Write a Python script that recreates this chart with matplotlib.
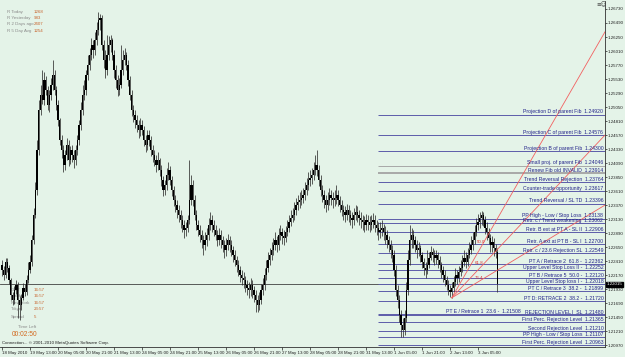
import matplotlib
matplotlib.use('Agg')
import matplotlib.pyplot as plt
import matplotlib.transforms as mtransforms

plt.rcParams['font.family'] = ['Liberation Sans', 'DejaVu Sans']

# ---------------- data ----------------
first_open = 1.2234
closes = [
 1.2226,1.2217,1.2239,1.2229,1.2209,1.2183,1.2174,1.2191,1.2200,1.2174,
 1.2166,1.2178,1.2195,1.2188,1.2209,1.2226,1.2239,1.2277,1.2320,1.2363,
 1.2431,1.2500,1.2526,1.2517,1.2551,1.2534,1.2508,1.2526,1.2543,1.2560,
 1.2534,1.2508,1.2483,1.2448,1.2431,1.2406,1.2423,1.2440,1.2414,1.2431,
 1.2423,1.2414,1.2431,1.2448,1.2474,1.2500,1.2526,1.2534,1.2560,1.2577,
 1.2594,1.2611,1.2603,1.2620,1.2637,1.2654,1.2658,1.2611,1.2586,1.2568,
 1.2594,1.2611,1.2620,1.2594,1.2568,1.2551,1.2534,1.2543,1.2568,1.2586,
 1.2594,1.2577,1.2551,1.2526,1.2500,1.2491,1.2483,1.2474,1.2466,1.2474,
 1.2466,1.2448,1.2440,1.2457,1.2448,1.2431,1.2423,1.2414,1.2406,1.2414,
 1.2397,1.2380,1.2363,1.2371,1.2388,1.2397,1.2380,1.2363,1.2346,1.2337,
 1.2328,1.2320,1.2311,1.2303,1.2294,1.2298,1.2311,1.2346,1.2371,1.2346,
 1.2320,1.2303,1.2294,1.2286,1.2277,1.2268,1.2277,1.2286,1.2303,1.2311,
 1.2303,1.2294,1.2286,1.2277,1.2286,1.2277,1.2268,1.2260,1.2268,1.2277,
 1.2268,1.2260,1.2251,1.2243,1.2234,1.2226,1.2217,1.2212,1.2209,1.2200,
 1.2195,1.2191,1.2200,1.2191,1.2183,1.2174,1.2166,1.2174,1.2191,1.2200,
 1.2217,1.2229,1.2243,1.2251,1.2260,1.2268,1.2277,1.2268,1.2286,1.2291,
 1.2284,1.2281,1.2291,1.2298,1.2308,1.2315,1.2320,1.2328,1.2337,1.2342,
 1.2346,1.2349,1.2354,1.2363,1.2371,1.2380,1.2383,1.2388,1.2397,1.2406,
 1.2397,1.2380,1.2363,1.2354,1.2346,1.2337,1.2346,1.2354,1.2349,1.2346,
 1.2349,1.2354,1.2346,1.2337,1.2328,1.2325,1.2320,1.2328,1.2320,1.2315,
 1.2311,1.2320,1.2325,1.2320,1.2315,1.2311,1.2308,1.2303,1.2311,1.2308,
 1.2303,1.2308,1.2311,1.2303,1.2298,1.2291,1.2294,1.2298,1.2291,1.2286,
 1.2277,1.2268,1.2260,1.2251,1.2226,1.2191,1.2174,1.2148,1.2131,1.2123,
 1.2143,1.2191,1.2243,1.2277,1.2286,1.2277,1.2268,1.2260,1.2263,1.2251,
 1.2239,1.2229,1.2226,1.2234,1.2246,1.2257,1.2251,1.2246,1.2251,1.2243,
 1.2234,1.2226,1.2217,1.2209,1.2200,1.2191,1.2188,1.2195,1.2205,1.2217,
 1.2212,1.2222,1.2229,1.2239,1.2246,1.2239,1.2251,1.2260,1.2268,1.2277,
 1.2291,1.2303,1.2308,1.2315,1.2320,1.2311,1.2298,1.2291,1.2281,1.2268,
 1.2274,1.2263,1.2257,1.2202]
highs = [
 1.2243,1.2232,1.2246,1.2246,1.2234,1.2212,1.2188,1.2198,1.2209,1.2205,
 1.2181,1.2185,1.2203,1.2202,1.2217,1.2239,1.2251,1.2286,1.2332,1.2376,
 1.2448,1.2517,1.2543,1.2568,1.2565,1.2558,1.2541,1.2534,1.2555,1.2586,
 1.2568,1.2541,1.2517,1.2486,1.2457,1.2440,1.2431,1.2452,1.2448,1.2438,
 1.2440,1.2431,1.2440,1.2457,1.2483,1.2514,1.2543,1.2551,1.2568,1.2594,
 1.2606,1.2623,1.2620,1.2634,1.2651,1.2668,1.2664,1.2663,1.2620,1.2603,
 1.2628,1.2627,1.2628,1.2623,1.2603,1.2577,1.2560,1.2555,1.2611,1.2603,
 1.2606,1.2599,1.2586,1.2558,1.2534,1.2508,1.2500,1.2491,1.2483,1.2486,
 1.2483,1.2472,1.2457,1.2466,1.2466,1.2455,1.2440,1.2431,1.2423,1.2428,
 1.2418,1.2406,1.2387,1.2380,1.2400,1.2411,1.2404,1.2387,1.2370,1.2354,
 1.2346,1.2337,1.2328,1.2320,1.2311,1.2308,1.2320,1.2414,1.2388,1.2380,
 1.2354,1.2328,1.2311,1.2303,1.2294,1.2286,1.2291,1.2298,1.2315,1.2325,
 1.2320,1.2311,1.2303,1.2294,1.2298,1.2294,1.2284,1.2277,1.2281,1.2287,
 1.2284,1.2277,1.2267,1.2260,1.2250,1.2243,1.2232,1.2226,1.2222,1.2215,
 1.2209,1.2205,1.2212,1.2209,1.2198,1.2191,1.2183,1.2188,1.2202,1.2212,
 1.2229,1.2243,1.2257,1.2263,1.2274,1.2281,1.2291,1.2284,1.2298,1.2303,
 1.2298,1.2294,1.2301,1.2311,1.2320,1.2328,1.2332,1.2342,1.2349,1.2354,
 1.2359,1.2363,1.2366,1.2376,1.2383,1.2394,1.2397,1.2400,1.2411,1.2423,
 1.2431,1.2406,1.2388,1.2371,1.2363,1.2354,1.2359,1.2366,1.2363,1.2359,
 1.2363,1.2371,1.2363,1.2352,1.2346,1.2337,1.2335,1.2339,1.2337,1.2328,
 1.2325,1.2332,1.2337,1.2335,1.2328,1.2325,1.2320,1.2318,1.2322,1.2320,
 1.2318,1.2320,1.2323,1.2320,1.2311,1.2308,1.2308,1.2311,1.2305,1.2301,
 1.2294,1.2284,1.2277,1.2268,1.2260,1.2234,1.2200,1.2183,1.2157,1.2143,
 1.2157,1.2205,1.2260,1.2303,1.2298,1.2294,1.2284,1.2277,1.2274,1.2268,
 1.2257,1.2246,1.2239,1.2260,1.2257,1.2267,1.2263,1.2260,1.2260,1.2257,
 1.2250,1.2239,1.2232,1.2226,1.2215,1.2209,1.2200,1.2205,1.2215,1.2229,
 1.2226,1.2232,1.2243,1.2251,1.2260,1.2257,1.2263,1.2274,1.2284,1.2291,
 1.2303,1.2315,1.2322,1.2325,1.2327,1.2325,1.2318,1.2308,1.2298,1.2287,
 1.2284,1.2281,1.2270,1.2263]
lows = [
 1.2215,1.2209,1.2212,1.2222,1.2202,1.2174,1.2166,1.2167,1.2185,1.2143,
 1.2140,1.2157,1.2174,1.2181,1.2183,1.2203,1.2220,1.2232,1.2270,1.2315,
 1.2354,1.2423,1.2491,1.2510,1.2508,1.2526,1.2500,1.2496,1.2517,1.2534,
 1.2526,1.2500,1.2472,1.2440,1.2418,1.2394,1.2397,1.2414,1.2404,1.2407,
 1.2411,1.2400,1.2406,1.2423,1.2440,1.2466,1.2491,1.2517,1.2526,1.2551,
 1.2568,1.2586,1.2589,1.2594,1.2611,1.2628,1.2637,1.2603,1.2572,1.2555,
 1.2560,1.2586,1.2599,1.2586,1.2555,1.2538,1.2524,1.2526,1.2538,1.2560,
 1.2577,1.2568,1.2541,1.2517,1.2490,1.2479,1.2469,1.2462,1.2452,1.2455,
 1.2457,1.2438,1.2428,1.2431,1.2438,1.2421,1.2411,1.2404,1.2394,1.2397,
 1.2387,1.2370,1.2352,1.2354,1.2363,1.2380,1.2371,1.2352,1.2335,1.2325,
 1.2315,1.2308,1.2298,1.2291,1.2281,1.2284,1.2291,1.2305,1.2337,1.2335,
 1.2311,1.2294,1.2284,1.2274,1.2263,1.2251,1.2260,1.2267,1.2277,1.2294,
 1.2291,1.2284,1.2277,1.2267,1.2268,1.2263,1.2257,1.2246,1.2250,1.2260,
 1.2257,1.2250,1.2239,1.2232,1.2222,1.2215,1.2205,1.2200,1.2195,1.2188,
 1.2183,1.2178,1.2181,1.2178,1.2171,1.2154,1.2154,1.2157,1.2167,1.2183,
 1.2191,1.2209,1.2222,1.2234,1.2243,1.2251,1.2260,1.2257,1.2260,1.2277,
 1.2270,1.2268,1.2274,1.2284,1.2291,1.2301,1.2308,1.2311,1.2320,1.2328,
 1.2332,1.2337,1.2340,1.2346,1.2354,1.2363,1.2370,1.2373,1.2380,1.2388,
 1.2387,1.2370,1.2352,1.2342,1.2332,1.2325,1.2328,1.2337,1.2337,1.2332,
 1.2335,1.2339,1.2335,1.2325,1.2318,1.2311,1.2308,1.2311,1.2308,1.2303,
 1.2298,1.2303,1.2311,1.2308,1.2303,1.2298,1.2294,1.2291,1.2294,1.2294,
 1.2291,1.2294,1.2298,1.2291,1.2286,1.2277,1.2281,1.2284,1.2277,1.2270,
 1.2263,1.2257,1.2246,1.2239,1.2215,1.2181,1.2160,1.2136,1.2111,1.2111,
 1.2114,1.2136,1.2183,1.2234,1.2263,1.2263,1.2257,1.2246,1.2250,1.2239,
 1.2229,1.2217,1.2212,1.2219,1.2229,1.2243,1.2239,1.2234,1.2236,1.2229,
 1.2222,1.2212,1.2205,1.2198,1.2191,1.2183,1.2179,1.2178,1.2188,1.2198,
 1.2202,1.2205,1.2215,1.2222,1.2232,1.2229,1.2232,1.2246,1.2253,1.2260,
 1.2270,1.2284,1.2294,1.2298,1.2303,1.2301,1.2287,1.2277,1.2270,1.2257,
 1.2257,1.2250,1.2246,1.2188]

date_labels = ["18 May 2010", "19 May 13:00", "20 May 05:00", "20 May 21:00",
               "21 May 13:00", "24 May 05:00", "24 May 21:00", "25 May 13:00",
               "26 May 05:00", "26 May 21:00", "27 May 13:00", "28 May 05:00",
               "28 May 21:00", "31 May 13:00", "1 Jun 05:00", "1 Jun 21:00",
               "2 Jun 13:00", "3 Jun 05:00"]
bars_per_label = 16

price_ticks = [1.26730, 1.26490, 1.26250, 1.26010, 1.25770, 1.25530, 1.25290,
               1.25050, 1.24810, 1.24570, 1.24330, 1.24090, 1.23850, 1.23610,
               1.23370, 1.23130, 1.22890, 1.22650, 1.22410, 1.22170, 1.21930,
               1.21690, 1.21450, 1.21210, 1.20970]
bid = 1.22015

level_prices = [1.24920, 1.24576, 1.24300, 1.24046, 1.23914, 1.23764, 1.23617,
                1.23396, 1.23138, 1.23062, 1.22906, 1.22700, 1.22549, 1.22362,
                1.22252, 1.22120, 1.22018, 1.21899, 1.21720, 1.21508, 1.21480,
                1.21365, 1.21210, 1.21107, 1.20963]
level_names = ["Projection D of parent Fib", "Projection C of parent Fib",
               "Projection B of parent Fib", "Small proj. of parent Fib",
               "Renew Fib old INVALID", "Trend Reversal Rejection",
               "Counter-trade opportunity", "Trend Reversal / SL TD",
               "PP High - Low / Stop Loss", "Retr. c / Trend weakening",
               "Retr. B ext at PT A - SL II", "Retr. A ext at PT B - SL I",
               "Retr. c / 23.6 Rejection SL", "PT A / Retrace 2  61.8 -",
               "Upper Level Stop Loss II -", "PT B / Retrace 5  50.0 -",
               "Upper Level Stop loss I -", "PT C / Retrace 3  38.2 -",
               "PT D: RETRACE 2  38.2 -", "PT E / Retrace 1  23.6 -",
               "REJECTION LEVEL I  SL", "First Perc. Rejection Level",
               "Second Rejection Level", "PP High - Low / Stop Loss",
               "First Perc. Rejection Level"]
gray_levels = ["Small proj. of parent Fib", "Renew Fib old INVALID"]
# label that is written just left of its crowded neighbour's label
shifted_label = ("PT E / Retrace 1  23.6 -", "REJECTION LEVEL I  SL")
levels_start_bar = 215

fan_origin_bar = 257
fan_origin_price = 1.2178
fan_end_bar = 344.6
fan_end_prices = [1.2634, 1.2457, 1.2337]
fan_labels = ["50.0", "61.8", "76.4"]
fan_label_bars = [273.5, 272.5, 272.5]
fan_label_prices = [1.2274, 1.2238, 1.2212]

info_labels = ["R Today", "R Yesterday", "R 2 Days ago", "R 5 Day Avg"]
info_values = ["1268", "983", "2407", "1254"]
clock_labels = ["GMT", "London", "New York", "Tokyo", "Spread"]
clock_values = ["16:57", "16:57", "16:57", "23:57", "5"]

# ---------------- style ----------------
BG = '#e4f3e8'
W, H = 625, 357
fig = plt.figure(figsize=(W / 100, H / 100), dpi=100, facecolor=BG)
ax = fig.add_axes([0, 10 / H, 605 / W, 346 / H], facecolor=BG)
ax.set_xlim(-2 / 1.75, 603 / 1.75)
ax.set_ylim(1.20937, 1.26867)

def px(x, y):
    return x / W, 1 - y / H

fs = 3.2

# info texts
for k, (lab, val) in enumerate(zip(info_labels, info_values)):
    yy = [12, 18, 24, 31][k]
    fig.text(*px(7, yy), lab, fontsize=fs, color='#8a8a8a', va='center', zorder=0)
    fig.text(*px(34, yy), val, fontsize=fs, color='#c8642d', va='center', zorder=0)
for k, (lab, val) in enumerate(zip(clock_labels, clock_values)):
    yy = [290, 296, 303, 309, 317][k]
    ax.text(*px(11, yy), lab, transform=fig.transFigure, fontsize=fs,
            color='#8a8a8a', va='center', zorder=0.5)
    ax.text(*px(34, yy), val, transform=fig.transFigure, fontsize=fs,
            color='#c8642d', va='center', zorder=0.5)
fig.text(*px(18, 327), "Time Left", fontsize=fs, color='#8a8a8a', va='center')
fig.text(*px(12, 334), "00:02:50", fontsize=4.8, color='#d2691e', va='center')
fig.text(*px(2, 343), "Connection... \u00a9 2001-2010 MetaQuotes Software Corp.",
         fontsize=fs, color='#202020', va='center', zorder=5)

# bid line
ax.axhline(bid, color='#404040', lw=0.6, zorder=1)

# levels
label_artists = {}
for p, name in zip(level_prices, level_names):
    gray = name in gray_levels
    col = '#a8a8a8' if gray else '#5c5caa'
    lw = 1.4 if name == "Renew Fib old INVALID" else 0.7
    ax.hlines(p, levels_start_bar, 345, color=col, lw=lw, zorder=1)
    t = ax.text(343.6, p + 0.00002, f"{name}  {p:.5f}", ha='right', va='bottom',
                fontsize=3.7, color='#22228a', zorder=4)
    label_artists[name] = t

# move the crowded label to the left of its neighbour
fig.canvas.draw()
moved, neighbour = shifted_label
nb = label_artists[neighbour].get_window_extent()
x_data = ax.transData.inverted().transform((nb.x0 - 4, nb.y0))[0]
label_artists[moved].set_x(x_data)

# fan lines
for ep in fan_end_prices:
    ax.plot([fan_origin_bar, fan_end_bar], [fan_origin_price, ep],
            color='#f26060', lw=0.6, zorder=3)
for lab, bx, bp in zip(fan_labels, fan_label_bars, fan_label_prices):
    ax.text(bx, bp, lab, fontsize=fs, color='#e03030', ha='center', va='center', zorder=4)

# candles
n = len(closes)
xs = list(range(n))
opens = [first_open] + closes[:-1]
ax.vlines(xs, lows, highs, color='#303030', lw=0.55, zorder=2)
heights = [c - o for o, c in zip(opens, closes)]
ax.bar(xs, heights, bottom=opens, width=0.6, color='black', lw=0, zorder=2)

# axes styling
for s in ['left', 'top']:
    ax.spines[s].set_visible(False)
for s in ['right', 'bottom']:
    ax.spines[s].set_color('#303030')
    ax.spines[s].set_linewidth(0.6)
ax.yaxis.tick_right()
ax.set_yticks(price_ticks)
ax.set_yticklabels([f"{t:.5f}" for t in price_ticks])
ax.tick_params(axis='y', labelsize=fs, length=1.5, width=0.5, pad=0.6, colors='#202020')
ax.set_xticks([k * bars_per_label for k in range(len(date_labels))])
ax.set_xticklabels(date_labels, ha='left')
ax.tick_params(axis='x', labelsize=fs, length=2, width=0.5, pad=1, colors='#202020')
tr = mtransforms.blended_transform_factory(ax.transAxes, ax.transData)
ax.text(1.003, bid, f"{bid:.5f}", transform=tr, fontsize=fs, color='white',
        va='center', ha='left',
        bbox=dict(boxstyle='square,pad=0.12', fc='black', ec='black'))
fig.text(*px(596, 5), "\u2261\u263a", fontsize=4, color='#404040', va='center',
         family=['DejaVu Sans'])

fig.savefig('out.png', dpi=100, facecolor=BG)
